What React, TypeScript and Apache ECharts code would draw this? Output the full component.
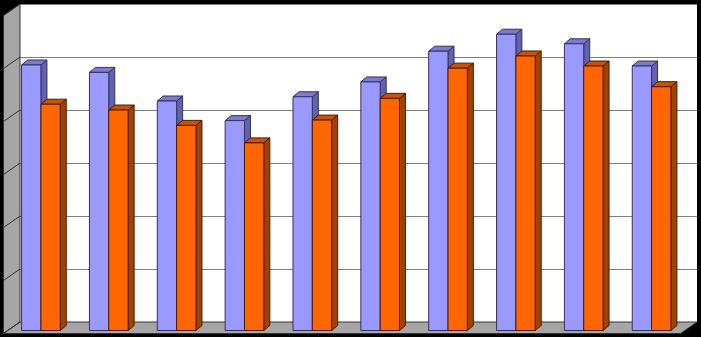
import React, { useEffect, useRef } from "react";
import * as echarts from "echarts";

const categories = ["1", "2", "3", "4", "5", "6", "7", "8", "9", "10"];
const seriesA = [50.1, 48.7, 43.3, 39.6, 44.1, 46.9, 52.7, 55.9, 54.1, 49.9];
const seriesB = [42.7, 41.6, 38.7, 35.4, 39.7, 43.8, 49.5, 51.8, 49.9, 46.0];
const yTicks = [0, 10, 20, 30, 40, 50, 60];

const WALL_DX = 16.5;
const WALL_DY = 11.5;
const BAR_DX = 6;
const BAR_DY = 5;

function makeBarRenderer(side: number, front: string, top: string, sideC: string, stroke: string) {
  return (params: any, api: any) => {
    const idx = api.value(0);
    const v = api.value(1);
    const p = api.coord([idx, v]);
    const b = api.coord([idx, 0]);
    const band = api.size([1, 0])[0];
    const w = band * 0.285;
    const x0 = side < 0 ? p[0] - w : p[0];
    const x1 = x0 + w;
    const y0 = p[1];
    const y1 = b[1];
    const st = { stroke, lineWidth: 1 };
    return {
      type: "group",
      children: [
        {
          type: "polygon",
          shape: { points: [[x1, y1], [x1, y0], [x1 + BAR_DX, y0 - BAR_DY], [x1 + BAR_DX, y1 - BAR_DY]] },
          style: { fill: sideC, ...st },
        },
        {
          type: "polygon",
          shape: { points: [[x0, y0], [x1, y0], [x1 + BAR_DX, y0 - BAR_DY], [x0 + BAR_DX, y0 - BAR_DY]] },
          style: { fill: top, ...st },
        },
        {
          type: "rect",
          shape: { x: x0, y: y0, width: w, height: y1 - y0 },
          style: { fill: front, ...st },
        },
      ],
    };
  };
}

export default function App() {
  const ref = useRef<HTMLDivElement>(null);
  useEffect(() => {
    if (!ref.current) return;
    const chart = echarts.init(ref.current, undefined, { renderer: "svg" });
    const wallRender = (params: any, api: any) => {
      const cs = params.coordSys;
      const left = cs.x;
      const right = cs.x + cs.width;
      const yTop = api.coord([0, yTicks[yTicks.length - 1]])[1];
      const yBase = api.coord([0, 0])[1];
      const children: any[] = [];
      children.push({
        type: "polygon",
        shape: { points: [[left, yTop], [left, yBase], [left - WALL_DX, yBase + WALL_DY], [left - WALL_DX, yTop + WALL_DY]] },
        style: { fill: "#A6A6A6", stroke: "#333", lineWidth: 1 },
      });
      children.push({
        type: "polygon",
        shape: { points: [[left, yBase], [right, yBase], [right - WALL_DX, yBase + WALL_DY], [left - WALL_DX, yBase + WALL_DY]] },
        style: { fill: "#A6A6A6", stroke: "#333", lineWidth: 1 },
      });
      yTicks.forEach((t) => {
        const y = api.coord([0, t])[1];
        children.push({
          type: "line",
          shape: { x1: left, y1: y, x2: left - WALL_DX, y2: y + WALL_DY },
          style: { stroke: "#333", lineWidth: 1 },
        });
      });
      return { type: "group", children };
    };
    chart.setOption({
      animation: false,
      backgroundColor: "#000",
      grid: [
        { left: 20, right: 4, top: 4, bottom: 15, show: true, backgroundColor: "#fff", borderWidth: 0 },
        { left: 7, right: 15.5, top: 12.5, bottom: 6.5 },
      ],
      xAxis: [
        { type: "category", data: categories, gridIndex: 0, show: false },
        { type: "category", data: categories, gridIndex: 1, show: false },
      ],
      yAxis: [
        {
          type: "value", gridIndex: 0, min: 0, max: 60, interval: 10,
          axisLabel: { show: false }, axisLine: { show: false }, axisTick: { show: false },
          splitLine: { show: true, lineStyle: { color: "#7f7f7f", width: 1 } },
        },
        { type: "value", gridIndex: 1, min: 0, max: 60, interval: 10, show: false, splitLine: { show: false } },
      ],
      series: [
        {
          type: "custom", xAxisIndex: 0, yAxisIndex: 0, z: 1,
          data: [[0, 0]], renderItem: wallRender, silent: true,
        },
        {
          type: "custom", name: "A", xAxisIndex: 1, yAxisIndex: 1, z: 2,
          data: seriesA.map((v, i) => [i, v]),
          renderItem: makeBarRenderer(-1, "#9999FF", "#7B7BCF", "#6262AE", "#33335a"),
        },
        {
          type: "custom", name: "B", xAxisIndex: 1, yAxisIndex: 1, z: 3,
          data: seriesB.map((v, i) => [i, v]),
          renderItem: makeBarRenderer(1, "#FF6600", "#CC5200", "#A34100", "#4a1c00"),
        },
      ],
    });
    return () => chart.dispose();
  }, []);
  return <div ref={ref} style={{ position: "fixed", left: 0, top: 0, width: 701, height: 337 }} />;
}
